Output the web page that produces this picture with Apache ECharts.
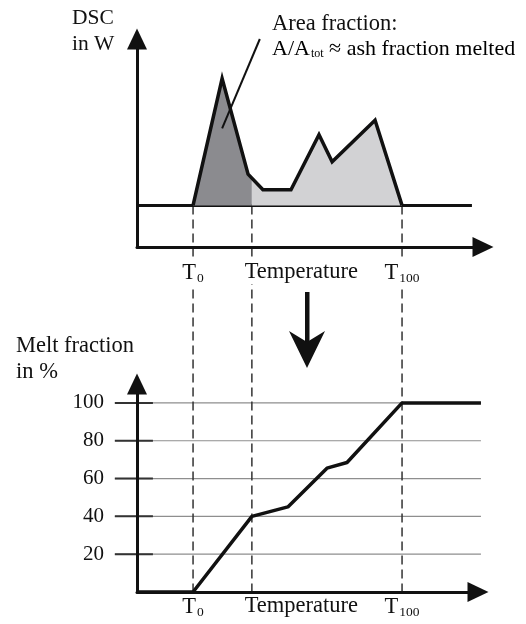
<!DOCTYPE html>
<html><head><meta charset="utf-8">
<script src="https://cdn.jsdelivr.net/npm/echarts@6/dist/echarts.min.js"></script>
<style>html,body{margin:0;padding:0;background:#fff}#c{width:526px;height:624px}</style>
</head><body><div id="c"></div>
<script>
// ---- data (arbitrary temperature units 0..100, DSC units 0..100, melt %) ----
const T0 = 16.2, TSPLIT = 33.2, T100 = 76.6;
const dscBaseline = [[0, 20], [96.8, 20]];
const dscCurve = [[16.2, 20], [24.6, 81], [32.1, 35], [36.4, 27.5], [44.5, 27.5], [52.6, 54], [56.4, 41], [68.8, 61], [76.6, 20]];
const dscDarkArea = [[16.2, 20], [24.6, 81], [32.1, 35], [33.2, 33.1]];
const dscLightArea = [[33.2, 33.1], [36.4, 27.5], [44.5, 27.5], [52.6, 54], [56.4, 41], [68.8, 61], [76.6, 20]];
const annotationLeader = [[35.5, 100], [24.6, 57]];
const meltCurve = [[0, 0], [16.2, 0], [33.2, 40], [43.6, 45], [54.9, 65.5], [60.7, 68.5], [76.6, 100], [99.4, 100]];
const meltGridLevels = [20, 40, 60, 80, 100];
const xLabelValues = [T0, 47.5, T100];
const xLabelTexts = ['{m|T}{s|0}', '{m|Temperature}', '{m|T}{s|100}'];
const dashedAt = [T0, TSPLIT, T100];

const SERIF = 'Liberation Serif';
const GRID_X_START = -6.4, GRID_X_END = 99.4, TICK_X_END = 4.6;

const rich = {
  m: { fontFamily: SERIF, fontSize: 22.5, color: '#111' },
  s: { fontFamily: SERIF, fontSize: 13.5, color: '#111', padding: [10, 0, 0, 1] }
};
const richNote = {
  m: { fontFamily: SERIF, fontSize: 22, color: '#111' },
  s: { fontFamily: SERIF, fontSize: 12, color: '#111', padding: [10, 0, 0, 1] }
};
const axisLine = { show: true, symbol: ['none', 'triangle'], symbolSize: [20, 21], lineStyle: { color: '#111', width: 3 } };
const xLabel = (margin) => ({
  customValues: xLabelValues,
  formatter: v => { const i = xLabelValues.findIndex(t => Math.abs(t - v) < 1e-6); return i >= 0 ? xLabelTexts[i] : ''; },
  margin: margin, rich: rich, backgroundColor: '#fff', padding: [0, 2, 0, 2]
});

const chart = echarts.init(document.getElementById('c'), null, { renderer: 'canvas' });
const series = [];
// top chart
series.push({ type: 'line', xAxisIndex: 0, yAxisIndex: 0, data: dscBaseline, symbol: 'none', lineStyle: { color: '#111', width: 3 }, z: 2, silent: true });
series.push({ type: 'line', xAxisIndex: 0, yAxisIndex: 0, data: dscDarkArea, symbol: 'none', lineStyle: { width: 0 }, areaStyle: { color: '#8b8b8f', origin: 20, opacity: 1 }, z: 3, silent: true });
series.push({ type: 'line', xAxisIndex: 0, yAxisIndex: 0, data: dscLightArea, symbol: 'none', lineStyle: { width: 0 }, areaStyle: { color: '#d2d2d4', origin: 20, opacity: 1 }, z: 3, silent: true });
series.push({ type: 'line', xAxisIndex: 0, yAxisIndex: 0, data: dscCurve, symbol: 'none', lineStyle: { color: '#111', width: 3.5, join: 'miter' }, z: 4, silent: true });
series.push({ type: 'line', xAxisIndex: 0, yAxisIndex: 0, data: annotationLeader, symbol: 'none', lineStyle: { color: '#111', width: 2 }, z: 5, clip: false, silent: true });
// bottom chart
series.push({ type: 'line', xAxisIndex: 1, yAxisIndex: 1, data: meltCurve, symbol: 'none', clip: false, lineStyle: { color: '#111', width: 3.5 }, z: 4, silent: true });

const baseGraphic = [
  { type: 'text', left: 72, top: 5, style: { text: 'DSC\nin W', fontFamily: SERIF, fontSize: 21.5, lineHeight: 26, fill: '#111' } },
  { type: 'text', left: 272, top: 13, style: { text: 'Area fraction:', fontFamily: SERIF, fontSize: 22.5, fill: '#111' } },
  { type: 'text', left: 272, top: 38, style: { text: '{m|A/A}{s|tot}{m| ≈ ash fraction melted}', rich: richNote } },
  { type: 'text', left: 16, top: 333, style: { text: 'Melt fraction\nin %', fontFamily: SERIF, fontSize: 22.5, lineHeight: 26, fill: '#111' } },
  { type: 'rect', shape: { x: 305, y: 292, width: 4.5, height: 50 }, style: { fill: '#111' } },
  { type: 'polygon', shape: { points: [[289, 331], [307, 342], [325, 331], [307, 368]] }, style: { fill: '#111' } }
];

chart.setOption({
  animation: false,
  backgroundColor: '#fff',
  grid: [
    { left: 137, top: 39, width: 346, height: 208 },
    { left: 137, top: 384, width: 341, height: 208 }
  ],
  xAxis: [
    { type: 'value', gridIndex: 0, min: 0, max: 100, axisLine: axisLine, axisTick: { show: false }, splitLine: { show: false }, axisLabel: xLabel(14), z: 6 },
    { type: 'value', gridIndex: 1, min: 0, max: 98.55, axisLine: axisLine, axisTick: { show: false }, splitLine: { show: false }, axisLabel: xLabel(3), z: 6 }
  ],
  yAxis: [
    { type: 'value', gridIndex: 0, min: 0, max: 100, axisLine: axisLine, axisTick: { show: false }, splitLine: { show: false }, axisLabel: { show: false }, z: 6 },
    { type: 'value', gridIndex: 1, min: 0, max: 110, interval: 20, axisLine: axisLine, axisTick: { show: false }, splitLine: { show: false },
      axisLabel: { margin: 33, fontFamily: SERIF, fontSize: 21, color: '#111', formatter: v => (v > 0 && v <= 100) ? String(v) : '' }, z: 6 }
  ],
  series: series,
  graphic: baseGraphic
});

// guides computed through the axes' scales
const extra = [];
meltGridLevels.forEach(v => {
  const a = chart.convertToPixel({ gridIndex: 1 }, [GRID_X_START, v]);
  const b = chart.convertToPixel({ gridIndex: 1 }, [GRID_X_END, v]);
  const c = chart.convertToPixel({ gridIndex: 1 }, [TICK_X_END, v]);
  extra.push({ type: 'line', z: 0, silent: true, shape: { x1: a[0], y1: a[1], x2: b[0], y2: b[1] }, style: { stroke: '#8e8e8e', lineWidth: 1.2 } });
  extra.push({ type: 'line', z: 0, silent: true, shape: { x1: a[0], y1: a[1], x2: c[0], y2: c[1] }, style: { stroke: '#333', lineWidth: 2 } });
});
dashedAt.forEach(x => {
  const p1 = chart.convertToPixel({ gridIndex: 0 }, [x, 20]);
  const p2 = chart.convertToPixel({ gridIndex: 1 }, [x, 0]);
  extra.push({ type: 'line', z: 1, silent: true, shape: { x1: p1[0], y1: p1[1], x2: p2[0], y2: p2[1] }, style: { stroke: '#333', lineWidth: 1.5, lineDash: [9, 5] } });
});
chart.setOption({ graphic: baseGraphic.concat(extra) });
</script>
</body></html>
